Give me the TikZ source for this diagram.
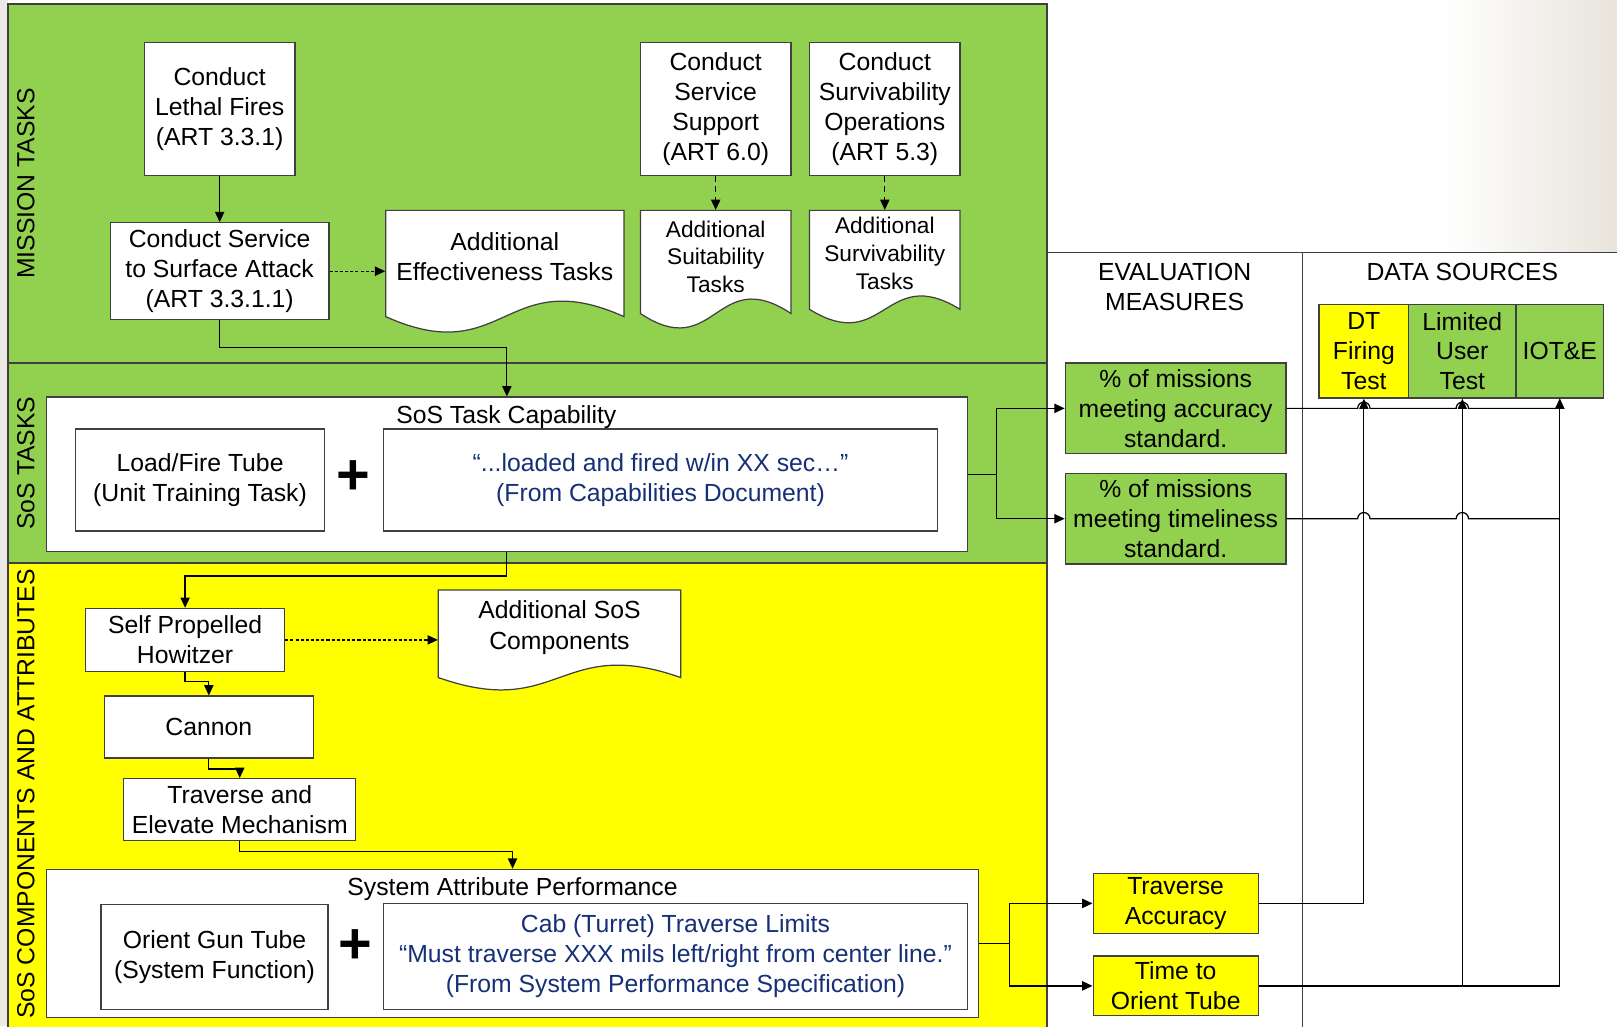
\documentclass[tikz,border=0pt]{standalone}
\usepackage{fontspec}
\setmainfont{Liberation Sans}
\usetikzlibrary{arrows.meta,calc}
\definecolor{bandgreen}{RGB}{146,208,80}
\definecolor{bandyellow}{RGB}{255,255,0}
\definecolor{navytext}{RGB}{22,48,120}
\definecolor{edgegray}{RGB}{64,64,64}
\definecolor{slidegray}{RGB}{236,234,228}
\newcommand\bx[7][]{%
 \pgfmathsetmacro\bxcx{(#3+#5)/2}%
 \pgfmathsetmacro\bxcy{(#4+#6)/2}%
 \pgfmathsetmacro\bxw{(#5-#3)*0.5}%
 \pgfmathsetmacro\bxh{(#6-#4)*0.5}%
 \node[box,minimum width=\bxw pt,minimum height=\bxh pt,#1] (#2) at (\bxcx,\bxcy) {#7};}
% name, x1, top, x2, yb, amplitude, text y, text style, text
\newcommand\docbox[9]{%
 \pgfmathsetmacro\dcx{(#2+#4)/2}%
 \pgfmathsetmacro\dk{3.464*#6}%
 \pgfmathsetmacro\dup{#5-\dk}%
 \pgfmathsetmacro\ddn{#5+\dk}%
 \draw[docshape] (#2,#5) -- (#2,#3) -- (#4,#3) -- (#4,#5)
   .. controls (\dcx,\dup) and (\dcx,\ddn) .. (#2,#5) -- cycle;
 \pgfmathsetmacro\dcy{(#3+#5)/2}%
 \pgfmathsetmacro\dw{(#4-#2)*0.5}%
 \pgfmathsetmacro\dh{(#5-#3)*0.5}%
 \node[minimum width=\dw pt,minimum height=\dh pt,inner sep=0pt] (#1) at (\dcx,\dcy) {};
 \node[txt,#8] (#1-t) at (\dcx,#7) {#9};}
\begin{document}
\begin{tikzpicture}[x=0.5pt,y=-0.5pt,
  every node/.style={font=\fontsize{12}{14.5}\selectfont},
  txt/.style={align=center,inner sep=0pt},
  box/.style={draw=edgegray,fill=white,line width=0.6pt,align=center,inner sep=0pt},
  band/.style={draw=edgegray,line width=0.8pt},
  docshape/.style={draw=edgegray,fill=white,line width=0.6pt},
  arr/.style={-{Triangle[length=5pt,width=4.5pt]},line width=0.6pt,draw=black},
  ln/.style={line width=0.6pt,draw=black},
  dotarr/.style={arr,dash pattern=on 1.5pt off 1pt},
  dasharr/.style={arr,dash pattern=on 3pt off 2pt},
  grid/.style={draw=edgegray,line width=0.6pt},
  small/.style={font=\fontsize{11}{13.5}\selectfont},
  wide/.style={font=\fontsize{12}{15}\selectfont},
  plus/.style={font=\fontsize{28}{28}\selectfont\bfseries,inner sep=0pt}]
\useasboundingbox (0,0) rectangle (1568,995);
\fill[white] (0,0) rectangle (1568,995);
\fill[slidegray] (0,0) rectangle (8,995);
\shade[left color=white,right color={rgb,255:red,232;green,228;blue,220}] (1400,0) rectangle (1568,245);

% bands
\bx[band,fill=bandgreen]{mt}{8}{4}{1015}{352}{}
\bx[band,fill=bandgreen]{st}{8}{352}{1015}{546}{}
\bx[band,fill=bandyellow]{sc}{8}{546}{1015}{1010}{}
\node[rotate=90] (mtl) at (25,178) {MISSION TASKS};
\node[rotate=90] (stl) at (25,449) {SoS TASKS};
\node[rotate=90] (scl) at (25,770) {SoS COMPONENTS AND ATTRIBUTES};

% right table
\draw[grid] (1015,245) -- (1568,245);
\draw[grid] (1263,245) -- (1263,1000);
\node[txt] (evh) at (1139,278) {EVALUATION\\MEASURES};
\node[txt] (dsh) at (1418,264) {DATA SOURCES};

% mission tasks
\bx{lf}{140}{41}{286}{170}{Conduct\\Lethal Fires\\(ART 3.3.1)}
\bx{cssa}{107}{216}{319}{310}{Conduct Service\\to Surface Attack\\(ART 3.3.1.1)}
\bx{ss}{621}{41}{767}{170}{Conduct\\Service\\Support\\(ART 6.0)}
\bx{sv}{785}{41}{931}{170}{Conduct\\Survivability\\Operations\\(ART 5.3)}
\docbox{aet}{374}{204}{605}{307}{15}{249}{}{Additional\\Effectiveness Tasks}
\docbox{ast}{621}{204}{767}{304}{14}{249}{small}{Additional\\Suitability\\Tasks}
\docbox{asv}{785}{204}{931}{300}{13}{246}{small}{Additional\\Survivability\\Tasks}
\draw[arr] (lf.south) -- (cssa.north);
\draw[dotarr] (cssa.east) -- (cssa.east -| aet.west);
\draw[dasharr] (ss.south) -- (ast.north);
\draw[dasharr] (sv.south) -- (asv.north);

% SoS tasks
\bx{stc}{45}{385}{938}{535}{}
\node[txt] (stct) at (491,404) {SoS Task Capability};
\bx{lft}{73}{416}{315}{515}{Load/Fire Tube\\(Unit Training Task)}
\node[plus] (p1) at (343,463) {+};
\bx[text=navytext]{cap}{372}{416}{909}{515}{“...loaded and fired w/in XX sec…”\\(From Capabilities Document)}
\draw[arr] (cssa.south) -- ++(0,26) -| (stc.north);

% components
\bx{sph}{83}{590}{276}{651}{Self Propelled\\Howitzer}
\docbox{asc}{425}{572}{660}{657}{12}{609}{wide}{Additional SoS\\Components}
\bx{can}{101}{675}{304}{735}{Cannon}
\bx{tem}{120}{755}{345}{815}{Traverse and\\Elevate Mechanism}
\bx{sap}{45}{843}{949}{987}{}
\node[txt] (sapt) at (497,862) {System Attribute Performance};
\bx{ogt}{98}{877}{318}{979}{Orient Gun Tube\\(System Function)}
\node[plus] (p2) at (345,918) {+};
\bx[text=navytext]{spec}{372}{876}{938}{979}{Cab (Turret) Traverse Limits\\“Must traverse XXX mils left/right from center line.”\\(From System Performance Specification)}
\draw[arr] (stc.south) -- ++(0,23) -| (sph.north);
\draw[dotarr] (sph.east) -- (sph.east -| asc.west);
\draw[arr] (sph.south) -- ++(0,9) -| (can.north);
\draw[arr] (can.south) -- ++(0,10) -| (tem.north);
\draw[arr] (tem.south) -- ++(0,10) -| (sap.north);

% evaluation measures
\bx[fill=bandgreen]{acc}{1033}{352}{1247}{440}{\% of missions\\meeting accuracy\\standard.}
\bx[fill=bandgreen]{tim}{1033}{459}{1247}{547}{\% of missions\\meeting timeliness\\standard.}
\bx[fill=bandyellow]{ta}{1060}{847}{1220}{905}{Traverse\\Accuracy}
\bx[fill=bandyellow]{tot}{1060}{927}{1220}{985}{Time to\\Orient Tube}
\draw[arr] (stc.east) -- ++(28,0) |- (acc.west);
\draw[arr] (stc.east) -- ++(28,0) |- (tim.west);
\draw[arr] (sap.east) -- ++(29,0) |- (ta.west);
\draw[arr] (sap.east) -- ++(29,0) |- (tot.west);

% data sources
\bx[fill=bandyellow]{dt}{1279}{295}{1366}{386}{DT\\Firing\\Test}
\bx[fill=bandgreen]{lut}{1366}{295}{1470}{386}{Limited\\User\\Test}
\bx[fill=bandgreen]{iot}{1470}{295}{1555}{386}{IOT\&E}

\draw[arr] (ta.east) -| (dt.south);
\draw[arr] (tot.east) -| (lut.south);
\draw[arr] (tot.east) -| (iot.south);
\draw[arr] (acc.east)
  -- ($(dt.south |- acc.east)+(-6,0)$) arc[start angle=180,end angle=0,radius=3pt]
  -- ($(lut.south |- acc.east)+(-6,0)$) arc[start angle=180,end angle=0,radius=3pt]
  -- (iot.south |- acc.east) -- (iot.south);
\draw[ln] (tim.east)
  -- ($(dt.south |- tim.east)+(-6,0)$) arc[start angle=180,end angle=0,radius=3pt]
  -- ($(lut.south |- tim.east)+(-6,0)$) arc[start angle=180,end angle=0,radius=3pt]
  -- (iot.south |- tim.east);
\end{tikzpicture}
\end{document}
